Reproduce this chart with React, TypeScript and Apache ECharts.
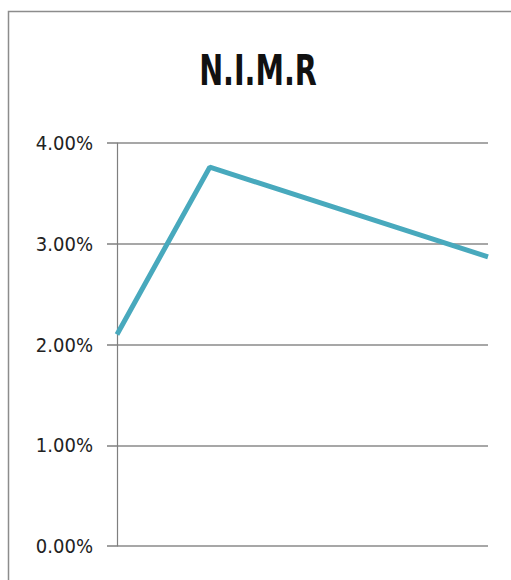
import React, { useEffect, useRef } from "react";
import * as echarts from "echarts";

const titleText = "N.I.M.R";
const xPositions = [0, 1, 4];
const nimrValues = [2.1, 3.76, 2.87];
const yTicks = [0, 1, 2, 3, 4];

export default function App() {
  const ref = useRef<HTMLDivElement>(null);
  useEffect(() => {
    document.body.style.margin = "0";
    const chart = echarts.init(ref.current!, null, { renderer: "svg" });
    chart.setOption({
      animation: false,
      backgroundColor: "#ffffff",
      graphic: [
        {
          type: "rect",
          shape: { x: 8.5, y: 11.5, width: 700, height: 700 },
          style: { fill: "none", stroke: "#8c8c8c", lineWidth: 1.5 },
          silent: true,
        },
        {
          type: "text",
          x: 258,
          y: 70,
          scaleX: 0.74,
          style: {
            text: titleText,
            textAlign: "center",
            textVerticalAlign: "middle",
            fontFamily: "'DejaVu Sans Condensed', 'DejaVu Sans', sans-serif",
            fontWeight: "bold",
            fontSize: 43,
            fill: "#111111",
          },
        },
      ],
      grid: { left: 117, right: 23, top: 143, bottom: 34 },
      xAxis: {
        type: "value",
        min: xPositions[0],
        max: xPositions[xPositions.length - 1],
        show: false,
      },
      yAxis: {
        type: "value",
        min: yTicks[0],
        max: yTicks[yTicks.length - 1],
        interval: 1,
        axisLine: { show: true, lineStyle: { color: "#7f7f7f", width: 1.2 } },
        axisTick: { show: true, length: 10, lineStyle: { color: "#7f7f7f", width: 1.5 } },
        splitLine: { show: true, lineStyle: { color: "#8a8a8a", width: 1.5 } },
        axisLabel: {
          margin: 24,
          formatter: (v: number) => v.toFixed(2) + "%",
          fontFamily: "'DejaVu Sans Condensed', sans-serif",
          fontSize: 20,
          color: "#222222",
        },
      },
      series: [
        {
          type: "line",
          data: xPositions.map((x, i) => [x, nimrValues[i]]),
          showSymbol: false,
          lineStyle: { color: "#48a9bd", width: 5 },
          itemStyle: { color: "#48a9bd" },
        },
      ],
    });
    return () => chart.dispose();
  }, []);
  return <div ref={ref} style={{ width: 511, height: 580 }} />;
}
